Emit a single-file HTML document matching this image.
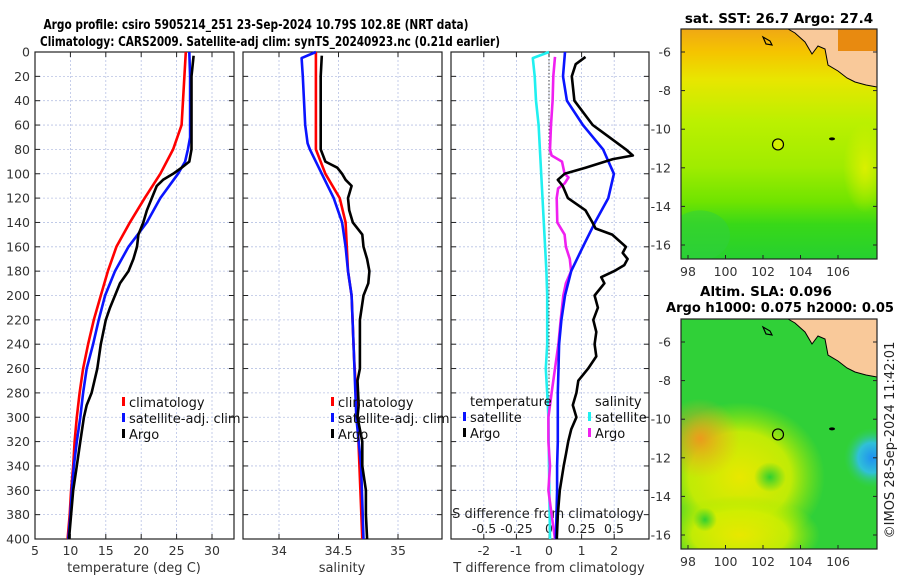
<!DOCTYPE html>
<html><head><meta charset="utf-8"><style>
html,body{margin:0;padding:0;background:#fff;}
svg{display:block;font-family:"DejaVu Sans","Liberation Sans",sans-serif;}
</style></head><body>
<svg id="fig" width="900" height="580" viewBox="0 0 900 580" xmlns="http://www.w3.org/2000/svg">
<defs>
<linearGradient id="sstg" x1="0" y1="0" x2="0" y2="1">
<stop offset="0" stop-color="#f0a814"/><stop offset="0.1" stop-color="#f5c400"/>
<stop offset="0.22" stop-color="#e8e600"/><stop offset="0.4" stop-color="#bcf000"/>
<stop offset="0.6" stop-color="#a0ec00"/><stop offset="0.75" stop-color="#70e400"/>
<stop offset="0.85" stop-color="#38d818"/><stop offset="1" stop-color="#26d030"/>
</linearGradient>
<radialGradient id="sstR" cx="0.5" cy="0.5" r="0.5"><stop offset="0" stop-color="#e0f000" stop-opacity="0.9"/><stop offset="1" stop-color="#e0f000" stop-opacity="0"/></radialGradient>
<radialGradient id="sstO" cx="0.5" cy="0.5" r="0.5"><stop offset="0" stop-color="#e07a10" stop-opacity="0.9"/><stop offset="1" stop-color="#e07a10" stop-opacity="0"/></radialGradient>
<radialGradient id="slaY" cx="0.5" cy="0.5" r="0.5"><stop offset="0" stop-color="#e8e800"/><stop offset="0.6" stop-color="#d0ee00" stop-opacity="0.9"/><stop offset="1" stop-color="#a0ea00" stop-opacity="0"/></radialGradient>
<radialGradient id="slaO" cx="0.5" cy="0.5" r="0.5"><stop offset="0" stop-color="#ec9a1c"/><stop offset="1" stop-color="#ecb01c" stop-opacity="0"/></radialGradient>
<radialGradient id="slaB" cx="0.5" cy="0.5" r="0.5"><stop offset="0" stop-color="#2090f0"/><stop offset="0.5" stop-color="#30c0d8"/><stop offset="1" stop-color="#30d060" stop-opacity="0"/></radialGradient>
<radialGradient id="slaG" cx="0.5" cy="0.5" r="0.5"><stop offset="0" stop-color="#30d030"/><stop offset="1" stop-color="#30d030" stop-opacity="0"/></radialGradient>
<clipPath id="m1c"><rect x="681" y="29" width="196" height="230"/></clipPath>
<clipPath id="m2c"><rect x="681" y="319" width="196" height="230"/></clipPath>
</defs>
<g id="root"></g>
</svg>
<script>
// ---------- data ----------
const tDepthClim = [0,60,80,100,120,140,160,180,200,220,240,260,280,300,320,340,360,380,400];
const tClim = [26.3,25.7,24.5,22.7,20.5,18.4,16.5,15.3,14.3,13.3,12.5,11.8,11.3,10.9,10.6,10.4,10.1,9.9,9.6];
const tDepthSat = [0,20,70,80,90,100,120,140,160,180,200,220,240,260,280,300,320,340,360,380,400];
const tSat = [26.8,26.9,26.9,26.6,26.2,25.2,22.7,20.8,18.2,16.3,14.9,14.0,13.2,12.3,11.8,11.4,10.9,10.5,10.2,10.0,9.7];
const tDepthArgo = [3,20,80,90,95,100,105,110,120,130,140,150,160,170,180,190,200,210,220,240,260,280,290,300,320,340,360,380,400];
const tArgo = [27.4,27.1,27.1,26.8,25.7,24.5,23.1,22.2,21.5,20.8,20.3,19.6,19.4,18.9,18.2,17.0,16.3,15.6,15.0,14.3,13.8,13.0,12.3,11.9,11.4,10.9,10.4,10.1,9.8];

const sDepthClim = [0,80,100,120,140,160,180,200,250,300,350,400];
const sClim = [34.31,34.31,34.39,34.51,34.56,34.57,34.58,34.61,34.63,34.66,34.68,34.70];
const sDepthSat = [0,5,20,40,60,75,80,100,120,140,160,180,200,250,300,340,400];
const sSat = [34.31,34.19,34.20,34.21,34.22,34.24,34.26,34.36,34.46,34.53,34.56,34.58,34.61,34.63,34.65,34.69,34.71];
const sDepthArgo = [3,20,80,90,95,100,105,110,120,130,140,150,160,170,180,190,200,220,240,260,270,290,300,320,340,360,380,400];
const sArgo = [34.36,34.35,34.35,34.39,34.49,34.53,34.56,34.61,34.58,34.59,34.62,34.70,34.71,34.74,34.76,34.75,34.71,34.68,34.68,34.68,34.66,34.67,34.66,34.70,34.70,34.73,34.73,34.74];

const dDepthT = [0,20,40,60,80,100,120,140,160,180,200,220,240,260,280,300,320,340,360,380,400];
const dTSat = [0.49,0.43,0.55,1.04,1.66,1.99,1.82,1.41,1.04,0.68,0.49,0.38,0.31,0.29,0.27,0.27,0.27,0.25,0.25,0.23,0.21];
const dDepthTA = [4,10,20,40,60,70,80,85,88,95,100,105,110,120,130,140,145,150,160,165,170,175,180,185,190,200,210,220,230,240,250,260,270,280,290,300,310,320,330,340,360,380,400];
const dTArgo = [1.12,0.82,0.70,0.78,1.34,1.85,2.36,2.57,1.96,1.12,0.48,0.27,0.42,0.58,1.12,1.33,1.43,1.94,2.36,2.26,2.41,2.31,2.0,1.6,1.7,1.4,1.5,1.36,1.45,1.4,1.45,1.2,0.9,0.84,0.73,0.84,0.68,0.59,0.52,0.45,0.33,0.27,0.24];
const dDepthS = [0,5,20,40,60,80,100,120,140,160,180,200,240,260,280,300,340,400];
const dSSat = [0,-0.125,-0.11,-0.1,-0.08,-0.07,-0.06,-0.05,-0.04,-0.03,-0.02,-0.014,-0.014,-0.025,-0.014,-0.005,0,0.008];
const dDepthSA = [4,20,40,60,80,85,90,100,103,108,112,120,140,150,160,170,180,190,200,220,240,260,280,300,320,340,360,380,400];
const dSArgo = [0.046,0.033,0.028,0.015,0.008,0.02,0.1,0.12,0.15,0.12,0.07,0.059,0.064,0.12,0.13,0.16,0.17,0.13,0.11,0.09,0.072,0.046,0.02,-0.005,-0.005,0.008,-0.005,0.02,0.046];

const depthTicks = [0,20,40,60,80,100,120,140,160,180,200,220,240,260,280,300,320,340,360,380,400];
const tTicks = [5,10,15,20,25,30];
const sTicks = [34,34.5,35];
const dTTicks = [-2,-1,0,1,2];
const dSTicks = [-0.5,-0.25,0,0.25,0.5];
const latTicks = [-6,-8,-10,-12,-14,-16];
const lonTicks = [98,100,102,104,106];
const argoLon = 102.8, argoLat = -10.79;

// ---------- helpers ----------
const NS = "http://www.w3.org/2000/svg";
const root = document.getElementById('root');
function mk(tag, attrs, parent, text){
  const e = document.createElementNS(NS, tag);
  for (const k in attrs) e.setAttribute(k, attrs[k]);
  if (text !== undefined) e.textContent = text;
  (parent||root).appendChild(e);
  return e;
}
const TOP = 52, BOT = 539;
const yD = d => TOP + d*(BOT-TOP)/400;
const xT = t => 35 + (t-5)*7.08;
const xS = s => 279 + (s-34)*119;
const xDT = v => 549 + v*32.6;
const xDS = v => 549 + v*130;
const panels = [
  {x0:35,x1:234,name:'temperature-panel',ticks:tTicks,fx:xT},
  {x0:243,x1:442,name:'salinity-panel',ticks:sTicks,fx:xS},
  {x0:451,x1:649,name:'difference-panel',ticks:dTTicks,fx:xDT}
];

// titles
let e;
e = mk('text',{x:256,y:29,'text-anchor':'middle','font-size':13,'font-weight':'bold',textLength:425,lengthAdjust:'spacingAndGlyphs'},root,'Argo profile: csiro 5905214_251 23-Sep-2024 10.79S 102.8E (NRT data)');
 
e = mk('text',{x:270,y:46,'text-anchor':'middle','font-size':13,'font-weight':'bold',textLength:460,lengthAdjust:'spacingAndGlyphs'},root,'Climatology: CARS2009. Satellite-adj clim: synTS_20240923.nc (0.21d earlier)');
 

// panels
panels.forEach((p,pi)=>{
  const g = mk('g',{});
  
  
  depthTicks.forEach(d=>{
    mk('line',{x1:p.x0,x2:p.x1,y1:yD(d),y2:yD(d),stroke:'#b8c2e4','stroke-width':0.8,'stroke-dasharray':'2,2'},g);
  });
  p.ticks.forEach(t=>{
    const x = p.fx(t);
    mk('line',{x1:x,x2:x,y1:TOP,y2:BOT,stroke:'#b8c2e4','stroke-width':0.8,'stroke-dasharray':'2,2'},g);
    mk('line',{x1:x,x2:x,y1:BOT,y2:BOT-5,stroke:'#222'},g);
    mk('line',{x1:x,x2:x,y1:TOP,y2:TOP+5,stroke:'#222'},g);
    const lab = mk('text',{x:x,y:555,'text-anchor':'middle','font-size':12.5,fill:'#333'},g,String(t));
    
    
  });
  depthTicks.forEach(d=>{
    mk('line',{x1:p.x0,x2:p.x0+5,y1:yD(d),y2:yD(d),stroke:'#222'},g);
    mk('line',{x1:p.x1,x2:p.x1-5,y1:yD(d),y2:yD(d),stroke:'#222'},g);
  });
  mk('rect',{x:p.x0,y:TOP,width:p.x1-p.x0,height:BOT-TOP,fill:'none',stroke:'#222','stroke-width':1.2},g);
});
depthTicks.forEach(d=>{
  const t = mk('text',{x:30,y:yD(d)+4.5,'text-anchor':'end','font-size':12.5,fill:'#333'},root,String(d));
  
  
});
e = mk('text',{x:134,y:572,'text-anchor':'middle','font-size':13,fill:'#333'},root,'temperature (deg C)');
 
e = mk('text',{x:342,y:572,'text-anchor':'middle','font-size':13,fill:'#333'},root,'salinity');
 
e = mk('text',{x:549,y:572,'text-anchor':'middle','font-size':13,fill:'#333'},root,'T difference from climatology');
 
mk('line',{x1:xDT(0),x2:xDT(0),y1:TOP,y2:BOT,stroke:'#333','stroke-width':0.9,'stroke-dasharray':'1.5,2'});
e = mk('text',{x:548,y:518,'text-anchor':'middle','font-size':13,fill:'#222'},root,'S difference from climatology');
 
dSTicks.forEach(v=>{
  const t = mk('text',{x:xDS(v),y:533,'text-anchor':'middle','font-size':12.5,fill:'#222'},root,String(v));
  
  
});

function line(depths, vals, fx, color, name, w){
  const pts = depths.map((d,i)=>fx(vals[i]).toFixed(1)+','+yD(d).toFixed(1)).join(' ');
  const pl = mk('polyline',{points:pts,fill:'none',stroke:color,'stroke-width':w||2.6,'stroke-linejoin':'round'});
  
  
}
line(tDepthClim,tClim,xT,'#ff0000','temperature-climatology-line');
line(tDepthSat,tSat,xT,'#0a14ff','temperature-satellite-line');
line(tDepthArgo,tArgo,xT,'#000','temperature-argo-line');
line(sDepthClim,sClim,xS,'#ff0000','salinity-climatology-line');
line(sDepthSat,sSat,xS,'#0a14ff','salinity-satellite-line');
line(sDepthArgo,sArgo,xS,'#000','salinity-argo-line');
line(dDepthS,dSSat,xDS,'#20f0f0','s-diff-satellite-line');
line(dDepthSA,dSArgo,xDS,'#f020f0','s-diff-argo-line');
line(dDepthT,dTSat,xDT,'#0a14ff','t-diff-satellite-line');
line(dDepthTA,dTArgo,xDT,'#000','t-diff-argo-line');

function legItem(x,y,color,label,name){
  const g = mk('g',{});
  
  
  if (color) mk('rect',{x:x-7,y:y-10,width:3,height:9,fill:color},g);
  mk('text',{x:x,y:y,'font-size':13,fill:'#111'},g,label);
}
legItem(129,407,'#ff0000','climatology','legend-climatology');
legItem(129,423,'#0a14ff','satellite-adj. clim','legend-satellite-adj');
legItem(129,439,'#000','Argo','legend-argo');
legItem(338,407,'#ff0000','climatology','legend-climatology-salinity');
legItem(338,423,'#0a14ff','satellite-adj. clim','legend-satellite-adj-salinity');
legItem(338,439,'#000','Argo','legend-argo-salinity');
legItem(470,406,null,'temperature','legend-temperature-header');
legItem(470,422,'#0a14ff','satellite','legend-t-satellite');
legItem(470,438,'#000','Argo','legend-t-argo');
legItem(595,406,null,'salinity','legend-salinity-header');
legItem(595,422,'#20f0f0','satellite','legend-s-satellite');
legItem(595,438,'#f020f0','Argo','legend-s-argo');

// ---------- maps ----------
const mxL = lon => 688 + (lon-98)*18.75;
function map(y0, kind){
  const g = mk('g',{});
  
  
  const my = lat => y0 + 23 + (-6-lat)*19.3;
  const c = mk('g',{'clip-path': kind==='sst'?'url(#m1c)':'url(#m2c)'},g);
  if (kind==='sst'){
    mk('rect',{x:681,y:y0,width:196,height:230,fill:'url(#sstg)'},c);
    mk('ellipse',{cx:865,cy:my(-12),rx:22,ry:45,fill:'url(#sstR)'},c);
    mk('ellipse',{cx:860,cy:y0+5,rx:35,ry:25,fill:'url(#sstO)'},c);
    mk('ellipse',{cx:700,cy:my(-15.5),rx:30,ry:25,fill:'#30d040',opacity:0.5},c);
  } else {
    mk('rect',{x:681,y:y0,width:196,height:230,fill:'#30d038'},c);
    mk('ellipse',{cx:740,cy:my(-13),rx:85,ry:75,fill:'url(#slaY)'},c);
    mk('ellipse',{cx:740,cy:my(-16),rx:80,ry:40,fill:'url(#slaY)'},c);
    mk('ellipse',{cx:700,cy:my(-11),rx:40,ry:40,fill:'url(#slaO)'},c);
    mk('ellipse',{cx:770,cy:my(-13),rx:16,ry:15,fill:'url(#slaG)'},c);
    mk('ellipse',{cx:705,cy:my(-15.2),rx:12,ry:12,fill:'url(#slaG)'},c);
    mk('ellipse',{cx:872,cy:my(-12),rx:28,ry:30,fill:'url(#slaB)'},c);
  }
  const land = mk('path',{d:`M788,${y0} L795,${y0+4} L805,${y0+13} L812,${y0+25} L818,${y0+17} L825,${y0+20} L828,${y0+36} L838,${y0+42} L847,${y0+49} L855,${y0+53} L866,${y0+56} L877,${y0+58} L877,${y0} Z`,fill:'#f9c99a',stroke:'#000','stroke-width':1},c);
  
  
  if (kind==='sst') mk('rect',{x:838,y:y0,width:39,height:22,fill:'#e88a10'},c);
  mk('path',{d:`M763,${y0+8} L770,${y0+12} L772,${y0+16} L766,${y0+15} Z`,fill:'none',stroke:'#000','stroke-width':1.2},c);
  mk('ellipse',{cx:832,cy:my(-10.5),rx:3,ry:1.5,fill:'#000'},c);
  const m = mk('circle',{cx:mxL(argoLon),cy:my(argoLat),r:5.5,fill: kind==='sst'?'#d4f000':'none',stroke:'#000','stroke-width':1.2},g);
  
  
  mk('rect',{x:681,y:y0,width:196,height:230,fill:'none',stroke:'#222','stroke-width':1.2},g);
  latTicks.forEach(l=>{
    mk('line',{x1:681,x2:685,y1:my(l),y2:my(l),stroke:'#222'},g);
    mk('line',{x1:877,x2:873,y1:my(l),y2:my(l),stroke:'#222'},g);
    const t = mk('text',{x:671,y:my(l)+4.5,'text-anchor':'end','font-size':12.5,fill:'#333'},g,String(l));
    
    
  });
  lonTicks.forEach(l=>{
    mk('line',{x1:mxL(l),x2:mxL(l),y1:y0+230,y2:y0+226,stroke:'#222'},g);
    const t = mk('text',{x:mxL(l),y:y0+247,'text-anchor':'middle','font-size':12.5,fill:'#333'},g,String(l));
    
    
  });
}
map(29,'sst');
map(319,'sla');
e = mk('text',{x:779,y:23,'text-anchor':'middle','font-size':13.5,'font-weight':'bold'},root,'sat. SST: 26.7 Argo: 27.4');
 
e = mk('text',{x:766,y:296,'text-anchor':'middle','font-size':13.5,'font-weight':'bold'},root,'Altim. SLA: 0.096');
 
e = mk('text',{x:780,y:312,'text-anchor':'middle','font-size':13.5,'font-weight':'bold',textLength:228,lengthAdjust:'spacingAndGlyphs'},root,'Argo h1000: 0.075 h2000: 0.05');
 
e = mk('text',{x:0,y:0,'text-anchor':'middle','font-size':13,fill:'#222',transform:'translate(894,440) rotate(-90)'},root,'©IMOS 28-Sep-2024 11:42:01');
 
</script>
</body></html>
